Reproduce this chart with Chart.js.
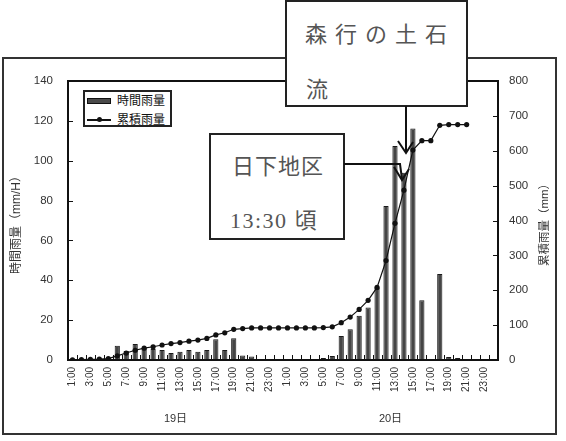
<!DOCTYPE html>
<html><head><meta charset="utf-8">
<script src="https://cdn.jsdelivr.net/npm/chart.js@4/dist/chart.umd.min.js"></script>
<style>
html,body{margin:0;padding:0;background:#fff;}
#wrap{position:relative;width:566px;height:441px;overflow:hidden;background:#fff;}
#frame{position:absolute;left:2px;top:57px;width:555px;height:378px;border:2px solid #333;box-sizing:border-box;}
canvas{position:absolute;left:0;top:0;}
.box{position:absolute;background:#fff;border:2px solid #222;box-sizing:border-box;color:#555;
 font-family:"Liberation Serif","Noto Sans CJK JP",serif;font-size:22px;white-space:nowrap;}
.box span{position:absolute;line-height:26px;}
#legend{position:absolute;left:83px;top:90px;width:89px;height:37px;border:2px solid #222;box-sizing:border-box;background:#fff;
 font-family:"Liberation Sans","Noto Sans CJK JP",sans-serif;font-size:12px;color:#111;}
#legend .t{position:absolute;left:32px;line-height:14px;white-space:nowrap;}
svg{position:absolute;left:0;top:0;}
</style></head>
<body><div id="wrap">
<div id="frame"></div>
<canvas id="c" width="566" height="441"></canvas>
<div id="legend">
 <div style="position:absolute;left:2px;top:6px;width:24px;height:6px;background:#4a4a4a;border:1px solid #111;box-sizing:border-box;"></div>
 <div class="t" style="top:2px;" id="lg1"></div>
 <div style="position:absolute;left:2px;top:27px;width:24px;height:1.5px;background:#111;"></div>
 <div style="position:absolute;left:11.5px;top:25px;width:5px;height:5px;border-radius:50%;background:#111;"></div>
 <div class="t" style="top:21px;" id="lg2"></div>
</div>
<div class="box" style="left:285px;top:0px;width:183px;height:107px;">
 <span style="left:18px;top:20px;letter-spacing:8px;">森行の土石</span>
 <span style="left:19px;top:75px;">流</span>
</div>
<div class="box" style="left:209px;top:133px;width:136px;height:107px;">
 <span style="left:21px;top:19px;letter-spacing:1px;">日下地区</span>
 <span style="left:19px;top:73px;letter-spacing:1.5px;">13:30 頃</span>
</div>
<svg width="566" height="441">
 <g fill="none" stroke="#111" stroke-width="2">
  <polyline points="406,106 406,152"/>
  <polyline points="398,141 406,153 413,142"/>
  <polyline points="344,164 400,164 402,179"/>
  <polyline points="394,167 402,180 409,169"/>
 </g>
</svg>
</div>
<script>
const categories = ['1:00','2:00','3:00','4:00','5:00','6:00','7:00','8:00','9:00','10:00','11:00','12:00',
 '13:00','14:00','15:00','16:00','17:00','18:00','19:00','20:00','21:00','22:00','23:00','0:00',
 '1:00','2:00','3:00','4:00','5:00','6:00','7:00','8:00','9:00','10:00','11:00','12:00',
 '13:00','14:00','15:00','16:00','17:00','18:00','19:00','20:00','21:00','22:00','23:00','0:00'];
const dayLabels = ['19日','20日'];
const seriesNames = ['時間雨量','累積雨量'];
const hourlyRain = [0.5,0.5,0.5,0.5,1, 7.2,4.5,8,6.2,5.5, 5,3.5,4.2,5,4.2, 5,10.4,5,10.9,2.2,
 1.7,0.5,0,0.5,0, 0,0,0,1,2, 12,15.4,22.2,26.4,36.5, 77.3,107.4,94,116.2,30,
 0.5,43.2,1.5,1,0.5, 0,0,0];
const cumulativeRain = [0.5,1,2,2.5,4, 12,20,28,34,38, 43,47,50,54,57, 62,72,78,88,90,
 92,92,92,92,92, 92,92,92,93,95, 107,123,145,171,208, 285,392,487,602,629,
 629,673,675,675,675, null,null,null];
const leftTicks = {min:0,max:140,step:20};
const rightTicks = {min:0,max:800,step:100};
const leftTitle = '時間雨量（mm/H）';
const rightTitle = '累積雨量（mm）';

document.getElementById('lg1').textContent = seriesNames[0];
document.getElementById('lg2').textContent = seriesNames[1];

Chart.defaults.font.family = "'Liberation Sans','Noto Sans CJK JP',sans-serif";
Chart.defaults.color = '#333';

const decor = {
  id:'decor',
  afterDatasetsDraw(chart){
    const {ctx, chartArea:a, scales} = chart;
    const x=scales.x, y=scales.y, y2=scales.y2;
    ctx.save();
    ctx.strokeStyle='#111'; ctx.lineWidth=1;
    ctx.beginPath();
    for(let i=1;i<categories.length;i++){
      const px=Math.round((x.getPixelForValue(i-1)+x.getPixelForValue(i))/2)+0.5;
      ctx.moveTo(px,a.bottom); ctx.lineTo(px,a.bottom-5);
    }
    y.ticks.forEach(t=>{const py=Math.round(y.getPixelForValue(t.value))+0.5; ctx.moveTo(a.left,py); ctx.lineTo(a.left+5,py);});
    y2.ticks.forEach(t=>{const py=Math.round(y2.getPixelForValue(t.value))+0.5; ctx.moveTo(a.right,py); ctx.lineTo(a.right-5,py);});
    ctx.stroke();
    ctx.lineWidth=2; ctx.strokeStyle='#111';
    ctx.strokeRect(a.left,a.top,a.right-a.left,a.bottom-a.top);
    ctx.fillStyle='#333'; ctx.font="11px 'Liberation Sans','Noto Sans CJK JP',sans-serif";
    ctx.textAlign='center'; ctx.textBaseline='middle';
    dayLabels.forEach((d,k)=>{
      const i0=k*24+11, i1=k*24+12;
      const px=(x.getPixelForValue(i0)+x.getPixelForValue(i1))/2;
      ctx.fillText(d,px,419);
    });
    ctx.font="12px 'Liberation Sans','Noto Sans CJK JP',sans-serif";
    ctx.save(); ctx.translate(17,222); ctx.rotate(-Math.PI/2); ctx.fillText(leftTitle,0,0); ctx.restore();
    ctx.font="11.5px 'Liberation Sans','Noto Sans CJK JP',sans-serif";
    ctx.save(); ctx.translate(545,222); ctx.rotate(-Math.PI/2); ctx.fillText(rightTitle,0,0); ctx.restore();
    ctx.restore();
  }
};

new Chart(document.getElementById('c'),{
  data:{
    labels:categories,
    datasets:[
      {type:'line',label:seriesNames[1],data:cumulativeRain,yAxisID:'y2',order:0,
       borderColor:'#111',borderWidth:1.2,pointRadius:2.6,pointBackgroundColor:'#111',pointBorderWidth:0,
       tension:0,spanGaps:false},
      {type:'bar',label:seriesNames[0],data:hourlyRain,yAxisID:'y',order:1,
       backgroundColor:'#454545',borderColor:'#1a1a1a',borderWidth:1,
       barPercentage:0.58,categoryPercentage:1}
    ]
  },
  options:{
    responsive:false,animation:false,devicePixelRatio:1,
    layout:{padding:{top:81,left:0,right:0,bottom:0}},
    plugins:{legend:{display:false},tooltip:{enabled:false}},
    scales:{
      x:{type:'category',offset:true,
        grid:{display:false,drawTicks:false},border:{display:false},
        ticks:{autoSkip:false,maxRotation:90,minRotation:90,padding:7,color:'#333',font:{size:10},
          callback:(v,i)=> i%2===0 ? categories[i] : ''},
        afterFit:s=>{s.height=81;}},
      y:{position:'left',min:leftTicks.min,max:leftTicks.max,
        grid:{display:false,drawTicks:false},border:{display:false},
        ticks:{stepSize:leftTicks.step,padding:15,color:'#333',font:{size:11.5}},
        afterFit:s=>{s.width=68;}},
      y2:{position:'right',min:rightTicks.min,max:rightTicks.max,
        grid:{display:false,drawTicks:false},border:{display:false},
        ticks:{stepSize:rightTicks.step,padding:11,color:'#333',font:{size:11.5}},
        afterFit:s=>{s.width=68;}}
    }
  },
  plugins:[decor]
});
</script>
</body></html>
